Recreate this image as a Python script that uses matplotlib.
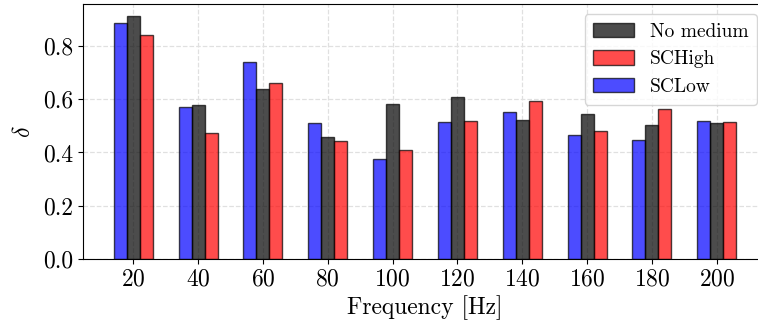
import numpy as np
import matplotlib
matplotlib.use("Agg")
import matplotlib.pyplot as plt

plt.rcParams['font.family'] = 'serif'
plt.rcParams['font.serif'] = ['cmr10']
plt.rcParams['mathtext.fontset'] = 'cm'
plt.rcParams['axes.formatter.use_mathtext'] = True
plt.rcParams['axes.unicode_minus'] = False

# data
freq = [20, 40, 60, 80, 100, 120, 140, 160, 180, 200]
sc_low = [0.887, 0.570, 0.741, 0.510, 0.376, 0.515, 0.550, 0.467, 0.447, 0.519]
no_medium = [0.912, 0.579, 0.640, 0.459, 0.581, 0.607, 0.520, 0.544, 0.502, 0.511]
sc_high = [0.841, 0.474, 0.661, 0.442, 0.408, 0.517, 0.594, 0.480, 0.562, 0.516]

x = np.array(freq)
w = 4

fig = plt.figure(figsize=(7.58, 3.25), dpi=100)
ax = fig.add_axes([0.1091, 0.203, 0.9032, 0.785])
ax.grid(True, linestyle='--', color='#e0e0e0', linewidth=0.9, zorder=0)
ax.set_axisbelow(True)

b_low = ax.bar(x - w, sc_low, w, color='blue', alpha=0.7, edgecolor='black', linewidth=1.0, label='SCLow', zorder=2)
b_no = ax.bar(x, no_medium, w, color='black', alpha=0.7, edgecolor='black', linewidth=1.0, label='No medium', zorder=2)
b_high = ax.bar(x + w, sc_high, w, color='red', alpha=0.7, edgecolor='black', linewidth=1.0, label='SCHigh', zorder=2)

ax.set_xticks(freq)
ax.set_yticks([0.0, 0.2, 0.4, 0.6, 0.8])
ax.set_yticklabels(['0.0', '0.2', '0.4', '0.6', '0.8'])
ax.tick_params(labelsize=17)
ax.set_xlabel('Frequency [Hz]', fontsize=17, labelpad=3)
ax.set_ylabel(r'$\delta$', fontsize=17, labelpad=6)

ax.legend([b_no, b_high, b_low], ['No medium', 'SCHigh', 'SCLow'], loc='upper right',
          bbox_to_anchor=(0.9987, 0.957), bbox_transform=fig.transFigure, borderaxespad=0,
          fontsize=14, handlelength=2.1, handleheight=0.75, borderpad=0.45,
          labelspacing=0.5, handletextpad=0.8, framealpha=0.8)

fig.savefig('out.png', dpi=100)
